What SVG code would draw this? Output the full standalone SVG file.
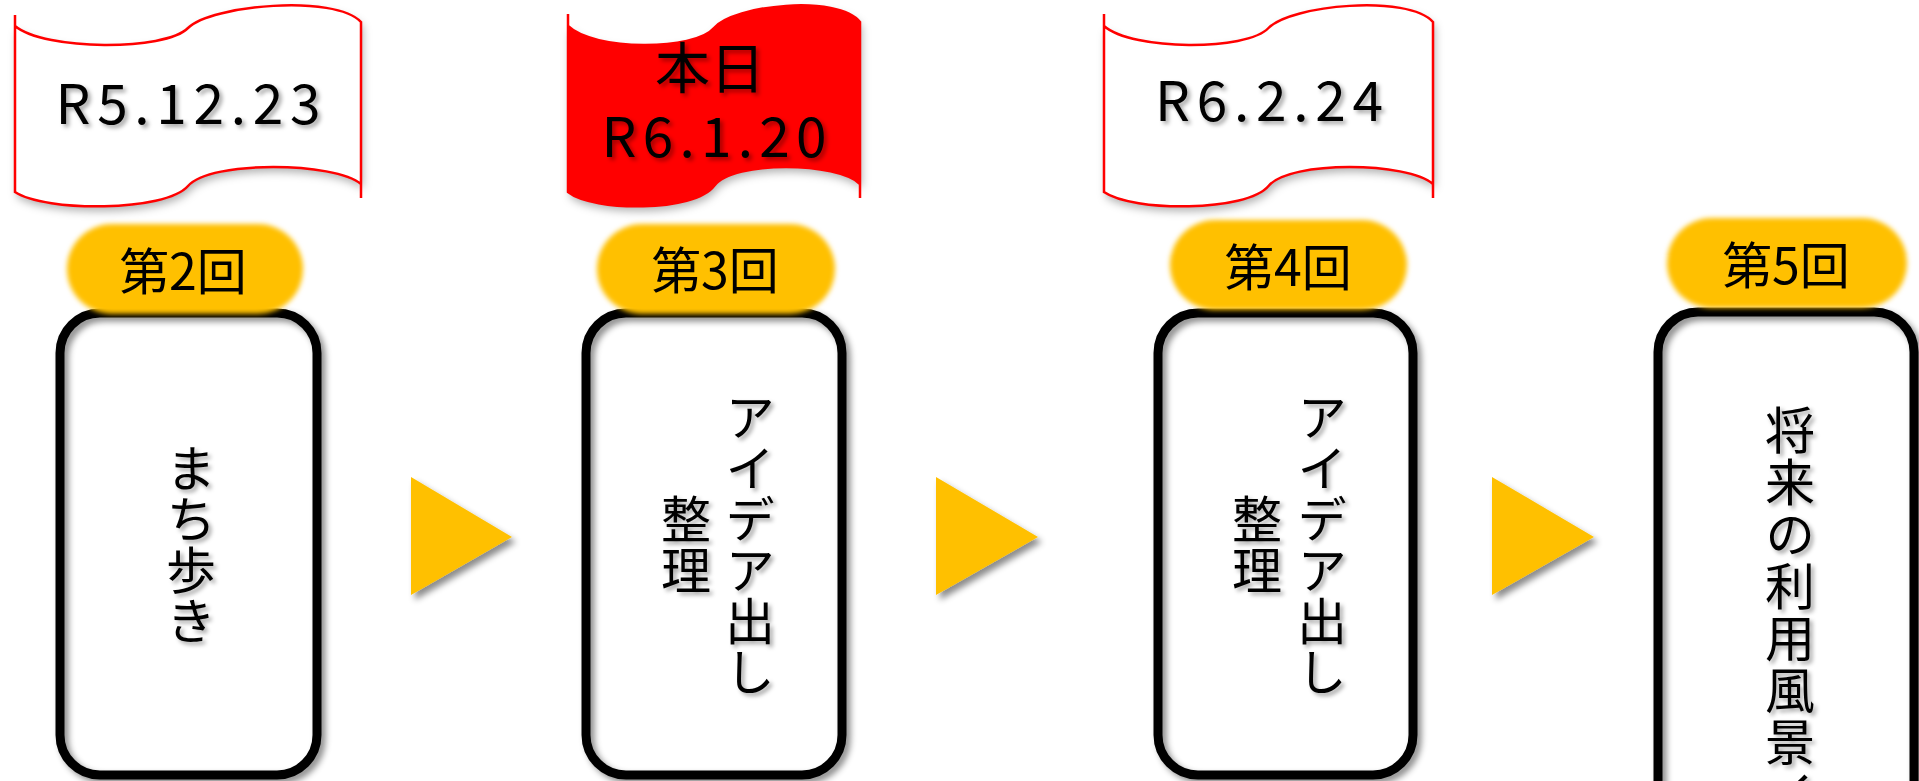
<svg xmlns="http://www.w3.org/2000/svg" width="1919" height="781" viewBox="0 0 1919 781">
<style>
  text { font-family: "Noto Sans CJK JP", "Noto Sans", sans-serif; fill: #000; }
  .date { font-size: 55px; filter: url(#tsh); }
  .pilltxt { font-size: 50px; dominant-baseline: central; text-anchor: middle; }
  .vt { writing-mode: vertical-rl; font-size: 50px; letter-spacing: 1px; text-anchor: middle; filter: url(#tsh); }
  .bw { fill: #fff; }
  .bs { fill: none; stroke: #FF0000; stroke-width: 2.5; }
  .box { fill: none; stroke: #000; stroke-width: 9; filter: url(#bsh); }
  .pill { fill: #FFC000; filter: url(#soft); }
  .arrow { fill: #FFC000; filter: url(#ash); }
</style>
<defs>
  <filter id="tsh" x="-20%" y="-20%" width="140%" height="140%">
    <feDropShadow dx="3" dy="3" stdDeviation="2" flood-color="#000" flood-opacity="0.35"/>
  </filter>
  <filter id="bsh" x="-10%" y="-10%" width="125%" height="125%">
    <feDropShadow dx="4" dy="4" stdDeviation="3" flood-color="#000" flood-opacity="0.45"/>
  </filter>
  <filter id="nsh" x="-10%" y="-20%" width="125%" height="150%">
    <feDropShadow dx="2" dy="5" stdDeviation="4" flood-color="#000" flood-opacity="0.3"/>
  </filter>
  <filter id="ash" x="-20%" y="-20%" width="150%" height="150%">
    <feDropShadow dx="4" dy="5" stdDeviation="3" flood-color="#000" flood-opacity="0.45"/>
  </filter>
  <filter id="soft" x="-10%" y="-20%" width="120%" height="140%">
    <feGaussianBlur stdDeviation="2.5"/>
  </filter>
</defs>
<rect width="1919" height="781" fill="#fff"/>

<g id="banner1">
  <path class="bw" filter="url(#nsh)" d="M15,26 C45.1,51 165.2,51 188,28 C210.8,5 335,-6 361,22 L361,184 C335,162 210.8,160 188,186 C165.2,212 45.1,212 15,192 Z"/>
  <path class="bs" d="M15,15 L15,192 C45.1,212 165.2,212 188,186 C210.8,160 335,162 361,184 M361,198 L361,22 C335,-6 210.8,5 188,28 C165.2,51 45.1,51 15,26"/>
  <text class="date" x="188" y="124" text-anchor="middle" textLength="265" lengthAdjust="spacing">R5.12.23</text>
</g>

<g id="banner2">
  <path fill="#FF0000" filter="url(#nsh)" d="M568,26 C593.4,51 694.7,51 714,28 C733.3,5 838.1,-6 860,22 L860,184 C838.1,162 733.3,160 714,186 C694.7,212 593.4,212 568,192 Z"/>
  <path class="bs" d="M568,14 L568,192 C593.4,212 694.7,212 714,186 C733.3,160 838.1,162 860,184 M860,198 L860,22 C838.1,-6 733.3,5 714,28 C694.7,51 593.4,51 568,26"/>
  <text class="date" x="710" y="88" text-anchor="middle">本日</text>
  <text class="date" x="714" y="157" text-anchor="middle" textLength="225" lengthAdjust="spacing">R6.1.20</text>
</g>

<g id="banner3">
  <path class="bw" filter="url(#nsh)" d="M1104,26 C1132.6,51 1246.8,51 1268.5,28 C1290.2,5 1408.3,-6 1433,22 L1433,184 C1408.3,162 1290.2,160 1268.5,186 C1246.8,212 1132.6,212 1104,192 Z"/>
  <path class="bs" d="M1104,14 L1104,192 C1132.6,212 1246.8,212 1268.5,186 C1290.2,160 1408.3,162 1433,184 M1433,198 L1433,22 C1408.3,-6 1290.2,5 1268.5,28 C1246.8,51 1132.6,51 1104,26"/>
  <text class="date" x="1269" y="121" text-anchor="middle" textLength="228" lengthAdjust="spacing">R6.2.24</text>
</g>

<g id="step2">
  <rect class="box" x="60" y="313" width="257" height="462" rx="40"/>
  <rect class="pill" x="67" y="224" width="236" height="90" rx="45"/>
  <text class="pilltxt" x="183" y="268">第2回</text>
  <text class="vt" x="191" y="545">まち歩き</text>
</g>

<g id="step3">
  <rect class="box" x="586" y="313" width="256" height="462" rx="40"/>
  <rect class="pill" x="597" y="224" width="238" height="90" rx="45"/>
  <text class="pilltxt" x="715" y="267">第3回</text>
  <text class="vt" x="750" y="545">アイデア出し</text>
  <text class="vt" x="686" y="545">整理</text>
</g>

<g id="step4">
  <rect class="box" x="1158" y="313" width="255" height="462" rx="40"/>
  <rect class="pill" x="1170" y="220" width="237" height="90" rx="45"/>
  <text class="pilltxt" x="1288" y="264">第4回</text>
  <text class="vt" x="1322" y="545">アイデア出し</text>
  <text class="vt" x="1257" y="545">整理</text>
</g>

<g id="step5">
  <rect class="box" x="1658" y="312" width="256" height="620" rx="40"/>
  <rect class="pill" x="1667" y="218" width="240" height="90" rx="45"/>
  <text class="pilltxt" x="1786" y="262">第5回</text>
  <text class="vt" x="1790" y="405" style="text-anchor:start; letter-spacing:2px">将来の利用風景イメージ</text>
</g>

<g id="connectors">
  <polygon class="arrow" points="411,477 512,537 411,595"/>
  <polygon class="arrow" points="936,477 1038,537 936,595"/>
  <polygon class="arrow" points="1492,477 1594,537 1492,595"/>
</g>
</svg>
